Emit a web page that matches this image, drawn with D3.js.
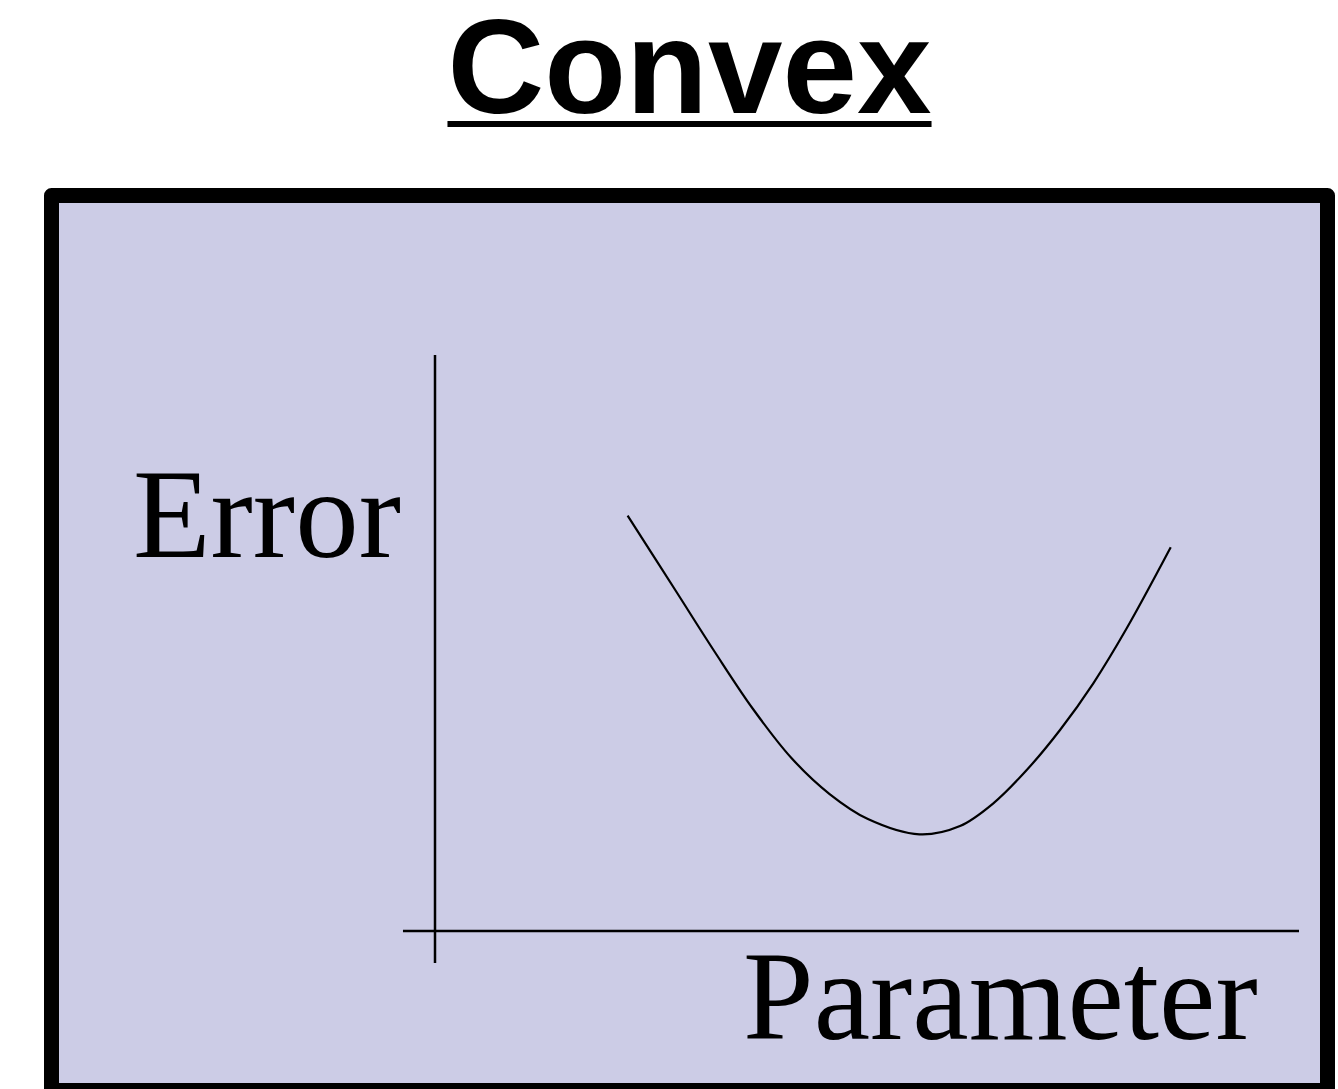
<!DOCTYPE html>
<html>
<head>
<meta charset="utf-8">
<script src="https://cdn.jsdelivr.net/npm/d3@7"></script>
<style>
  html, body { margin: 0; padding: 0; background: #fff; }
  svg { display: block; }
</style>
</head>
<body>
<div id="chart"></div>
<script>
(function () {
  'use strict';

  // Curve (parameter, error)
  var paramValues = [3.344, 4.193, 4.858, 5.521, 6.188, 6.851, 7.516, 8.411, 9.115, 9.693, 10.273, 10.851, 11.429, 12.009, 12.773];
  var errorValues = [7.210, 5.885, 4.844, 3.854, 3.003, 2.378, 1.944, 1.679, 1.823, 2.217, 2.795, 3.490, 4.300, 5.255, 6.661];
  var xDomain = [0, 15];
  var yDomain = [0, 10];
  var axisOverhang = -0.556;
  var titleText = 'Convex';
  var xLabel = 'Parameter';
  var yLabel = 'Error';

  var width = 1338, height = 1089;
  var svg = d3.select('#chart').append('svg').attr('width', width).attr('height', height);

  // Panel box
  svg.append('rect')
    .attr('x', 51.5).attr('y', 195.5).attr('width', 1276).attr('height', 895)
    .attr('fill', '#cccce6').attr('stroke', '#000').attr('stroke-width', 15)
    .attr('stroke-linejoin', 'round');

  // Title with underline
  var title = svg.append('text')
    .attr('x', 689.5).attr('y', 113).attr('text-anchor', 'middle')
    .attr('font-family', '"Liberation Sans", Arial, sans-serif')
    .attr('font-weight', 'bold').attr('font-size', 134)
    .text(titleText);
  var tw = title.node().getComputedTextLength();
  svg.append('line')
    .attr('x1', 689.5 - tw / 2).attr('x2', 689.5 + tw / 2)
    .attr('y1', 124).attr('y2', 124)
    .attr('stroke', '#000').attr('stroke-width', 6);

  var x = d3.scaleLinear().domain(xDomain).range([435, 1299]);
  var y = d3.scaleLinear().domain(yDomain).range([931, 355]);

  var g = svg.append('g');

  // Axes (plain lines crossing at the origin)
  g.append('line')
    .attr('x1', x(0)).attr('x2', x(0))
    .attr('y1', y(yDomain[1])).attr('y2', y(axisOverhang))
    .attr('stroke', '#000').attr('stroke-width', 2.5);
  g.append('line')
    .attr('x1', x(axisOverhang)).attr('x2', x(xDomain[1]))
    .attr('y1', y(0)).attr('y2', y(0))
    .attr('stroke', '#000').attr('stroke-width', 2.5);

  var pts = paramValues.map(function (p, i) { return { p: p, e: errorValues[i] }; });
  var line = d3.line()
    .x(function (d) { return x(d.p); })
    .y(function (d) { return y(d.e); })
    .curve(d3.curveCatmullRom.alpha(0.5));
  g.append('path').datum(pts).attr('d', line)
    .attr('fill', 'none').attr('stroke', '#000').attr('stroke-width', 2.2);

  // Axis labels
  g.append('text')
    .attr('x', 133).attr('y', 557)
    .attr('font-family', '"Liberation Serif", "Times New Roman", serif')
    .attr('font-size', 127).attr('fill', '#000')
    .text(yLabel);
  g.append('text')
    .attr('x', 743).attr('y', 1039)
    .attr('font-family', '"Liberation Serif", "Times New Roman", serif')
    .attr('font-size', 127).attr('fill', '#000')
    .text(xLabel);
})();
</script>
</body>
</html>
